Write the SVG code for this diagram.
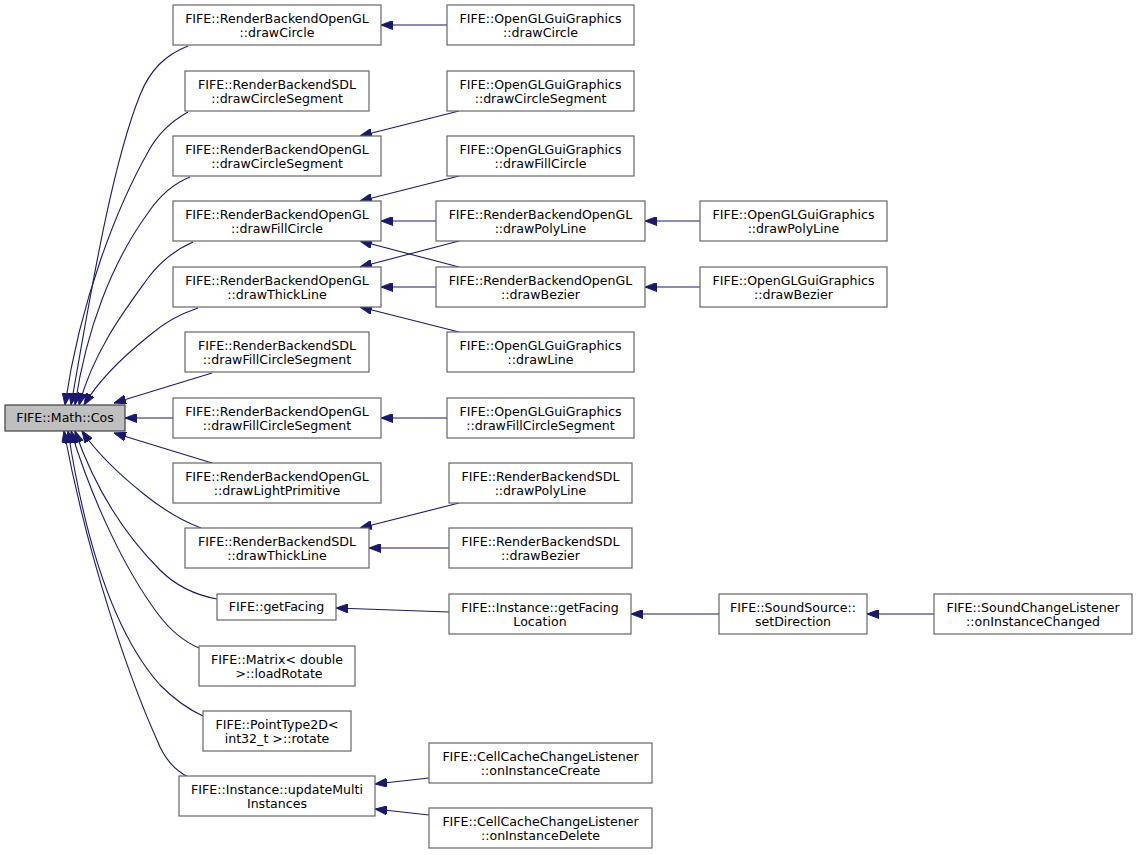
<svg xmlns="http://www.w3.org/2000/svg" width="1137" height="855" viewBox="0 0 1137 855">
<defs>
<marker id="ah" viewBox="0 0 12 9" markerWidth="12" markerHeight="9" markerUnits="userSpaceOnUse" refX="12" refY="4.5" orient="auto">
<path d="M0,0 L12,4.5 L0,9 z" fill="#191970" stroke="#191970" stroke-width="1"/>
</marker>
</defs>
<style>
.n rect{fill:#ffffff;stroke:#666666;stroke-width:1.2}
.n.f rect{fill:#bfbfbf;stroke:#404040}
.n text{font-family:"DejaVu Sans",sans-serif;font-size:12.6px;fill:#000000;text-anchor:middle}
.e path{fill:none;stroke:#191970;stroke-width:1.1;marker-end:url(#ah)}
</style>
<rect width="1137" height="855" fill="#ffffff"/>
<g id="connectors" class="e">
<path d="M188,46 C165,55 150,70 140,95 C110,170 88,310 71,405"/>
<path d="M188,112 C170,122 157,135 148,152 C118,205 80,300 65,405"/>
<path d="M190,177 C170,185 158,198 148,213 C112,262 86,330 75,405"/>
<path d="M193,242 C175,250 160,262 148,278 C125,310 94,350 79,405"/>
<path d="M198,308 C180,314 165,322 150,335 C125,355 100,378 84,405"/>
<path d="M212,373 L114,403"/>
<path d="M173,418 L125,418"/>
<path d="M212,463 L114,433"/>
<path d="M201,528 C180,520 160,507 145,495 C120,475 98,455 82,431"/>
<path d="M217,599 C195,595 175,585 160,570 C120,530 92,480 75,431"/>
<path d="M199,648 C185,642 170,630 158,614 C125,570 92,500 71,431"/>
<path d="M203,716 C190,710 175,700 160,685 C120,640 88,560 68,431"/>
<path d="M188,777 C175,770 165,760 157,740 C130,680 88,560 64,431"/>
<path d="M447,25 L381,25"/>
<path d="M459,111 L360,136"/>
<path d="M459,176 L360,201"/>
<path d="M436,221 L381,221"/>
<path d="M459,267 L360,241"/>
<path d="M459,241 L360,267"/>
<path d="M436,287 L381,287"/>
<path d="M459,332 L360,307"/>
<path d="M447,418 L381,418"/>
<path d="M459,503 L360,528"/>
<path d="M449,548 L369,548"/>
<path d="M449,612 L336,608"/>
<path d="M429,778 L375,784"/>
<path d="M429,815 L375,809"/>
<path d="M700,221 L645,221"/>
<path d="M700,287 L645,287"/>
<path d="M719,614 L631,614"/>
<path d="M934,614 L867,614"/>
</g>
<g id="n0" class="n f"><rect x="5" y="405" width="120" height="26"/><text x="65" y="422">FIFE::Math::Cos</text></g>
<g id="n1" class="n"><rect x="173" y="5" width="208" height="40"/><text x="277" y="22.5">FIFE::RenderBackendOpenGL</text><text x="277" y="36.5">::drawCircle</text></g>
<g id="n2" class="n"><rect x="185" y="71" width="184" height="40"/><text x="277" y="88.5">FIFE::RenderBackendSDL</text><text x="277" y="102.5">::drawCircleSegment</text></g>
<g id="n3" class="n"><rect x="173" y="136" width="208" height="40"/><text x="277" y="153.5">FIFE::RenderBackendOpenGL</text><text x="277" y="167.5">::drawCircleSegment</text></g>
<g id="n4" class="n"><rect x="173" y="201" width="208" height="40"/><text x="277" y="218.5">FIFE::RenderBackendOpenGL</text><text x="277" y="232.5">::drawFillCircle</text></g>
<g id="n5" class="n"><rect x="173" y="267" width="208" height="40"/><text x="277" y="284.5">FIFE::RenderBackendOpenGL</text><text x="277" y="298.5">::drawThickLine</text></g>
<g id="n6" class="n"><rect x="185" y="332" width="184" height="40"/><text x="277" y="349.5">FIFE::RenderBackendSDL</text><text x="277" y="363.5">::drawFillCircleSegment</text></g>
<g id="n7" class="n"><rect x="173" y="398" width="208" height="40"/><text x="277" y="415.5">FIFE::RenderBackendOpenGL</text><text x="277" y="429.5">::drawFillCircleSegment</text></g>
<g id="n8" class="n"><rect x="173" y="463" width="208" height="40"/><text x="277" y="480.5">FIFE::RenderBackendOpenGL</text><text x="277" y="494.5">::drawLightPrimitive</text></g>
<g id="n9" class="n"><rect x="185" y="528" width="184" height="40"/><text x="277" y="545.5">FIFE::RenderBackendSDL</text><text x="277" y="559.5">::drawThickLine</text></g>
<g id="n10" class="n"><rect x="217" y="594" width="119" height="26"/><text x="276.5" y="611">FIFE::getFacing</text></g>
<g id="n11" class="n"><rect x="199" y="646" width="156" height="40"/><text x="277" y="663.5">FIFE::Matrix&lt; double</text><text x="279" y="677.5">&gt;::loadRotate</text></g>
<g id="n12" class="n"><rect x="203" y="711" width="148" height="40"/><text x="277" y="728.5">FIFE::PointType2D&lt;</text><text x="277" y="742.5">int32_t &gt;::rotate</text></g>
<g id="n13" class="n"><rect x="179" y="776" width="196" height="40"/><text x="277" y="793.5">FIFE::Instance::updateMulti</text><text x="277" y="807.5">Instances</text></g>
<g id="n14" class="n"><rect x="447" y="5" width="187" height="40"/><text x="540.5" y="22.5">FIFE::OpenGLGuiGraphics</text><text x="540.5" y="36.5">::drawCircle</text></g>
<g id="n15" class="n"><rect x="447" y="71" width="187" height="40"/><text x="540.5" y="88.5">FIFE::OpenGLGuiGraphics</text><text x="540.5" y="102.5">::drawCircleSegment</text></g>
<g id="n16" class="n"><rect x="447" y="136" width="187" height="40"/><text x="540.5" y="153.5">FIFE::OpenGLGuiGraphics</text><text x="540.5" y="167.5">::drawFillCircle</text></g>
<g id="n17" class="n"><rect x="436" y="201" width="209" height="40"/><text x="540.5" y="218.5">FIFE::RenderBackendOpenGL</text><text x="540.5" y="232.5">::drawPolyLine</text></g>
<g id="n18" class="n"><rect x="436" y="267" width="209" height="40"/><text x="540.5" y="284.5">FIFE::RenderBackendOpenGL</text><text x="540.5" y="298.5">::drawBezier</text></g>
<g id="n19" class="n"><rect x="447" y="332" width="187" height="40"/><text x="540.5" y="349.5">FIFE::OpenGLGuiGraphics</text><text x="540.5" y="363.5">::drawLine</text></g>
<g id="n20" class="n"><rect x="447" y="398" width="187" height="40"/><text x="540.5" y="415.5">FIFE::OpenGLGuiGraphics</text><text x="540.5" y="429.5">::drawFillCircleSegment</text></g>
<g id="n21" class="n"><rect x="449" y="463" width="183" height="40"/><text x="540.5" y="480.5">FIFE::RenderBackendSDL</text><text x="540.5" y="494.5">::drawPolyLine</text></g>
<g id="n22" class="n"><rect x="449" y="528" width="183" height="40"/><text x="540.5" y="545.5">FIFE::RenderBackendSDL</text><text x="540.5" y="559.5">::drawBezier</text></g>
<g id="n23" class="n"><rect x="449" y="594" width="182" height="40"/><text x="540" y="611.5">FIFE::Instance::getFacing</text><text x="540" y="625.5">Location</text></g>
<g id="n24" class="n"><rect x="429" y="743" width="223" height="40"/><text x="540.5" y="760.5">FIFE::CellCacheChangeListener</text><text x="540.5" y="774.5">::onInstanceCreate</text></g>
<g id="n25" class="n"><rect x="429" y="808" width="223" height="40"/><text x="540.5" y="825.5">FIFE::CellCacheChangeListener</text><text x="540.5" y="839.5">::onInstanceDelete</text></g>
<g id="n26" class="n"><rect x="700" y="201" width="187" height="40"/><text x="793.5" y="218.5">FIFE::OpenGLGuiGraphics</text><text x="793.5" y="232.5">::drawPolyLine</text></g>
<g id="n27" class="n"><rect x="700" y="267" width="187" height="40"/><text x="793.5" y="284.5">FIFE::OpenGLGuiGraphics</text><text x="793.5" y="298.5">::drawBezier</text></g>
<g id="n28" class="n"><rect x="719" y="594" width="148" height="40"/><text x="793" y="611.5">FIFE::SoundSource::</text><text x="793" y="625.5">setDirection</text></g>
<g id="n29" class="n"><rect x="934" y="594" width="198" height="40"/><text x="1033" y="611.5">FIFE::SoundChangeListener</text><text x="1033" y="625.5">::onInstanceChanged</text></g>
</svg>
